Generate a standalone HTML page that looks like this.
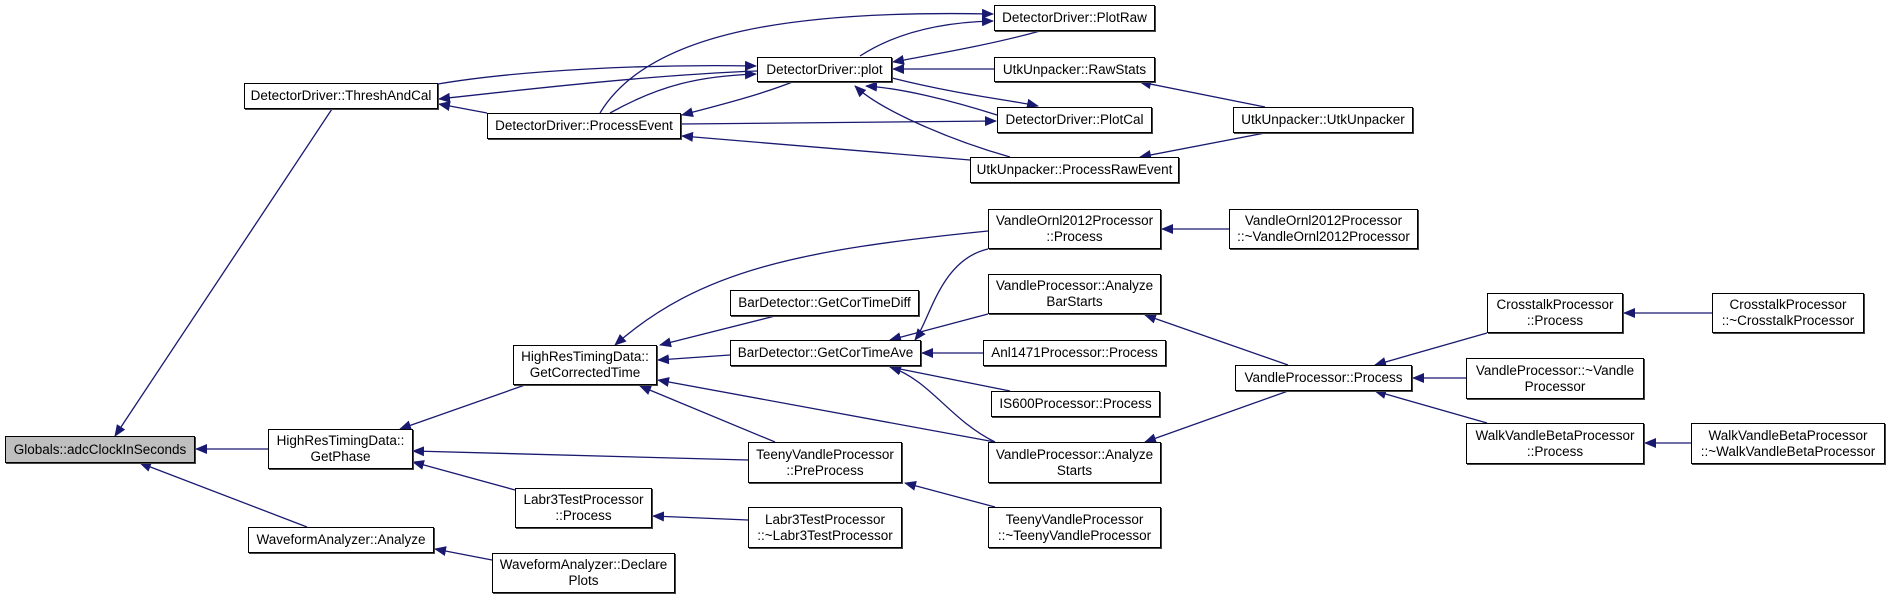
<!DOCTYPE html>
<html><head><meta charset="utf-8"><style>
body{margin:0;width:1891px;height:599px;background:#fff;overflow:hidden;position:relative;font-family:"Liberation Sans",Arial,sans-serif}
.n{position:absolute;box-sizing:border-box;border:1px solid #000;background:#fff;font-size:13.5px;line-height:16px;text-align:center;display:flex;align-items:center;justify-content:center;color:#000;white-space:nowrap;box-shadow:1px 1px 0 #444}
.g{background:#bfbfbf}
svg{position:absolute;left:0;top:0}
</style></head><body>
<svg width="1891" height="599">
<defs><marker id="a" markerWidth="12" markerHeight="10" refX="11" refY="5" orient="auto" markerUnits="userSpaceOnUse"><path d="M0,0 L12,5 L0,10 z" fill="#191970"/></marker></defs>
<g stroke="#191970" stroke-width="1.3" fill="none" marker-end="url(#a)">
<path d="M332,109 L115,436"/>
<path d="M268,449 L196,449"/>
<path d="M307,527 L140,463"/>
<path d="M757,71 C650,75 520,90 439,99"/>
<path d="M438,84 C520,70 650,64 756,66"/>
<path d="M487,113 L439,104"/>
<path d="M610,113 C660,85 700,76 756,74"/>
<path d="M795,81 C760,95 720,105 682,115"/>
<path d="M600,113 C650,30 800,10 993,14"/>
<path d="M681,124 L996,121"/>
<path d="M970,160 L682,136"/>
<path d="M860,56 C900,30 950,22 993,21"/>
<path d="M1040,31 C990,45 930,55 893,62"/>
<path d="M994,69 L893,69"/>
<path d="M892,78 C960,95 1010,100 1038,106"/>
<path d="M997,115 C950,100 900,88 866,86"/>
<path d="M1010,157 C950,140 880,110 855,86"/>
<path d="M1265,107 L1140,82"/>
<path d="M1265,133 L1140,157"/>
<path d="M988,231 C800,250 700,270 615,345"/>
<path d="M775,316 L660,345"/>
<path d="M730,355 L658,360"/>
<path d="M775,442 L640,386"/>
<path d="M995,442 L658,380"/>
<path d="M988,249 C940,260 930,320 915,340"/>
<path d="M988,314 L890,340"/>
<path d="M983,353 L922,353"/>
<path d="M1010,391 L890,367"/>
<path d="M995,442 C950,420 930,380 890,367"/>
<path d="M1229,229 L1162,229"/>
<path d="M1288,365 L1145,315"/>
<path d="M1288,391 L1145,442"/>
<path d="M1487,333 L1375,365"/>
<path d="M1466,378 L1413,378"/>
<path d="M1487,423 L1375,391"/>
<path d="M1712,313 L1624,313"/>
<path d="M1691,443 L1645,443"/>
<path d="M525,385 L400,429"/>
<path d="M748,460 L413,451"/>
<path d="M515,490 L413,462"/>
<path d="M995,507 L905,483"/>
<path d="M748,520 L653,516"/>
<path d="M492,560 L435,549"/>
</g>
</svg>
<div class="n g" style="left:5px;top:436px;width:190px;height:27px">Globals::adcClockInSeconds</div>
<div class="n" style="left:244px;top:83px;width:194px;height:26px">DetectorDriver::ThreshAndCal</div>
<div class="n" style="left:487px;top:113px;width:194px;height:26px">DetectorDriver::ProcessEvent</div>
<div class="n" style="left:757px;top:57px;width:135px;height:25px">DetectorDriver::plot</div>
<div class="n" style="left:994px;top:5px;width:161px;height:26px">DetectorDriver::PlotRaw</div>
<div class="n" style="left:994px;top:57px;width:161px;height:25px">UtkUnpacker::RawStats</div>
<div class="n" style="left:997px;top:107px;width:155px;height:26px">DetectorDriver::PlotCal</div>
<div class="n" style="left:1233px;top:107px;width:180px;height:26px">UtkUnpacker::UtkUnpacker</div>
<div class="n" style="left:970px;top:157px;width:209px;height:26px">UtkUnpacker::ProcessRawEvent</div>
<div class="n" style="left:988px;top:209px;width:173px;height:40px">VandleOrnl2012Processor<br>::Process</div>
<div class="n" style="left:1229px;top:209px;width:189px;height:40px">VandleOrnl2012Processor<br>::~VandleOrnl2012Processor</div>
<div class="n" style="left:988px;top:274px;width:173px;height:40px">VandleProcessor::Analyze<br>BarStarts</div>
<div class="n" style="left:730px;top:290px;width:189px;height:26px">BarDetector::GetCorTimeDiff</div>
<div class="n" style="left:730px;top:340px;width:191px;height:26px">BarDetector::GetCorTimeAve</div>
<div class="n" style="left:983px;top:340px;width:183px;height:26px">Anl1471Processor::Process</div>
<div class="n" style="left:991px;top:391px;width:169px;height:26px">IS600Processor::Process</div>
<div class="n" style="left:513px;top:345px;width:144px;height:40px">HighResTimingData::<br>GetCorrectedTime</div>
<div class="n" style="left:268px;top:429px;width:145px;height:40px">HighResTimingData::<br>GetPhase</div>
<div class="n" style="left:748px;top:442px;width:154px;height:41px">TeenyVandleProcessor<br>::PreProcess</div>
<div class="n" style="left:988px;top:442px;width:173px;height:41px">VandleProcessor::Analyze<br>Starts</div>
<div class="n" style="left:515px;top:488px;width:137px;height:40px">Labr3TestProcessor<br>::Process</div>
<div class="n" style="left:748px;top:507px;width:154px;height:41px">Labr3TestProcessor<br>::~Labr3TestProcessor</div>
<div class="n" style="left:988px;top:507px;width:173px;height:41px">TeenyVandleProcessor<br>::~TeenyVandleProcessor</div>
<div class="n" style="left:248px;top:527px;width:186px;height:26px">WaveformAnalyzer::Analyze</div>
<div class="n" style="left:492px;top:553px;width:183px;height:40px">WaveformAnalyzer::Declare<br>Plots</div>
<div class="n" style="left:1235px;top:365px;width:177px;height:26px">VandleProcessor::Process</div>
<div class="n" style="left:1487px;top:293px;width:136px;height:40px">CrosstalkProcessor<br>::Process</div>
<div class="n" style="left:1712px;top:293px;width:152px;height:40px">CrosstalkProcessor<br>::~CrosstalkProcessor</div>
<div class="n" style="left:1466px;top:358px;width:178px;height:41px">VandleProcessor::~Vandle<br>Processor</div>
<div class="n" style="left:1466px;top:423px;width:178px;height:41px">WalkVandleBetaProcessor<br>::Process</div>
<div class="n" style="left:1691px;top:423px;width:194px;height:41px">WalkVandleBetaProcessor<br>::~WalkVandleBetaProcessor</div>
</body></html>
